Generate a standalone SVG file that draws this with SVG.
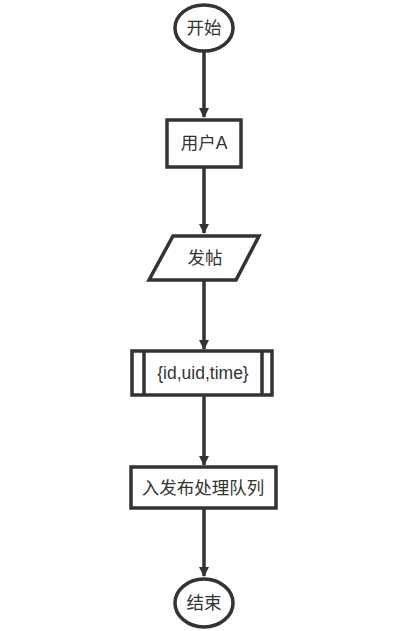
<svg xmlns="http://www.w3.org/2000/svg" width="412" height="631" viewBox="0 0 412 631">
<style>
.s{fill:#fff;stroke:#333;stroke-width:3.5}
.t{font-family:"Liberation Sans","Noto Sans CJK SC",sans-serif;font-size:17.5px;fill:#333;text-anchor:middle;dominant-baseline:central}
.c{stroke:#333;stroke-width:3.5;fill:none}
</style>
<defs>
<marker id="a" markerWidth="10" markerHeight="10" refX="9" refY="5" orient="auto" markerUnits="userSpaceOnUse">
<path d="M0,0 L10,5 L0,10 Z" fill="#333"/>
</marker>
</defs>
<rect width="412" height="631" fill="#fff"/>
<g id="connectors">
<path class="c" d="M204,50 V117" marker-end="url(#a)"/>
<path class="c" d="M204,167 V233" marker-end="url(#a)"/>
<path class="c" d="M204,280 V349" marker-end="url(#a)"/>
<path class="c" d="M204,395 V465" marker-end="url(#a)"/>
<path class="c" d="M204,508 V576" marker-end="url(#a)"/>
</g>
<g id="start">
<ellipse class="s" cx="204" cy="28" rx="29" ry="23"/>
<text class="t" x="204" y="28">开始</text>
</g>
<g id="userA">
<rect class="s" x="167" y="120" width="74" height="47"/>
<text class="t" x="204" y="143">用户A</text>
</g>
<g id="post">
<polygon class="s" points="173,236 259,236 236,280 149,280"/>
<text class="t" x="205" y="258">发帖</text>
</g>
<g id="data">
<rect class="s" x="132" y="351" width="140" height="44"/>
<line class="c" x1="144" y1="351" x2="144" y2="395"/>
<line class="c" x1="262" y1="351" x2="262" y2="395"/>
<text class="t" x="203" y="373">{id,uid,time}</text>
</g>
<g id="queue">
<rect class="s" x="131" y="467" width="145" height="41"/>
<text class="t" x="203" y="488">入发布处理队列</text>
</g>
<g id="end">
<ellipse class="s" cx="204" cy="603" rx="29" ry="24"/>
<text class="t" x="204" y="603">结束</text>
</g>
</svg>
